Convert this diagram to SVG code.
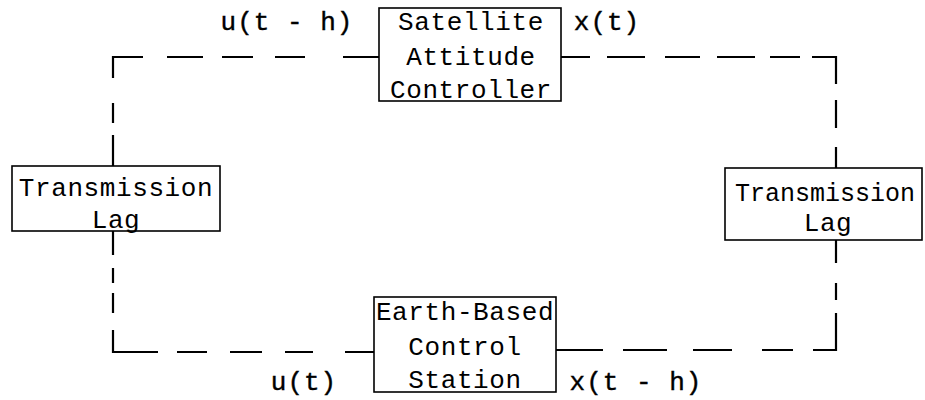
<svg xmlns="http://www.w3.org/2000/svg" width="925" height="400" viewBox="0 0 925 400">
<style>
.box{fill:#fff;stroke:#000;stroke-width:1.6}
.t{font-family:"Liberation Mono","DejaVu Sans Mono",monospace;font-size:26px;letter-spacing:0.6px;fill:#000;text-anchor:middle}
.r{font-size:25px;letter-spacing:0}
.lbl{font-family:"Liberation Mono","DejaVu Sans Mono",monospace;font-size:26px;letter-spacing:1px;fill:#000;stroke:#000;stroke-width:0.4;text-anchor:middle}
.c{fill:none;stroke:#000;stroke-width:2.2}
</style>
<rect width="925" height="400" fill="#fff"/>
<g id="connectors">
<path class="c" d="M560,57 H590 M607,57 H645 M665,57 H700 M717,57 H755 M770,57 H800 M812,57 H836 V84 M836,100 V128 M836,147 V168"/>
<path class="c" d="M836,240 V263 M836,283 V300 M836,313 V350 H813 M793,350 H762 M732,350 H693 M667,350 H623 M603,350 H556"/>
<path class="c" d="M377,352 H345 M313,352 H285 M262,352 H230 M207,352 H177 M158,352 H113 V330 M113,313 V293 M113,283 V268 M113,255 V231"/>
<path class="c" d="M113,166 V135 M113,123 V103 M113,78 V57 H143 M167,57 H203 M222,57 H253 M275,57 H305 M343,57 H379"/>
</g>
<g id="satellite">
<rect class="box" x="379" y="8" width="182" height="93"/>
<text class="t" x="471" y="30">Satellite</text>
<text class="t" x="471" y="65">Attitude</text>
<text class="t" x="471" y="98">Controller</text>
</g>
<g id="lag-left">
<rect class="box" x="12" y="166" width="208" height="65"/>
<text class="t" x="116" y="196">Transmission</text>
<text class="t" x="116" y="228">Lag</text>
</g>
<g id="lag-right">
<rect class="box" x="725" y="168" width="197" height="72"/>
<text class="t r" x="825" y="201">Transmission</text>
<text class="t" x="828" y="231">Lag</text>
</g>
<g id="earth">
<rect class="box" x="374" y="297" width="182" height="95"/>
<text class="t" x="465" y="320">Earth-Based</text>
<text class="t" x="465" y="355">Control</text>
<text class="t" x="465" y="388">Station</text>
</g>
<g id="labels">
<text class="lbl" x="287" y="30">u(t - h)</text>
<text class="lbl" x="607" y="30">x(t)</text>
<text class="lbl" x="304" y="390">u(t)</text>
<text class="lbl" x="636" y="390">x(t - h)</text>
</g>
</svg>
